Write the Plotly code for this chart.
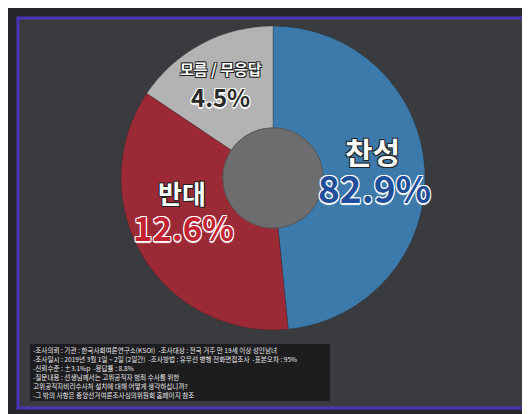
import plotly.graph_objects as go

# survey answers
labels = ['찬성', '반대', '모름 / 무응답']
label_pct = [82.9, 12.6, 4.5]
# share of the ring each slice actually occupies in the broadcast graphic
slice_share = [48.4, 36.0, 15.6]
colors = ['#3b7aab', '#9c2a36', '#b3b3b3']
pct_colors = ['#1f4f9a', '#c42230', '#2a2a2a']

footnote = [
    '-조사의뢰 : 기관 : 한국사회여론연구소(KSOI)  -조사대상 : 전국 거주 만 19세 이상 성인남녀',
    '-조사일시 : 2019년 3월 1일 ~ 2일 (2일간)  -조사방법 : 유무선 병행 전화면접조사  -표본오차 : 95%',
    '-신뢰수준 : ±3.1%p  -응답률 : 8.8%',
    '-질문내용 : 선생님께서는 고위공직자 범죄 수사를 위한',
    '고위공직자비리수사처 설치에 대해 어떻게 생각하십니까?',
    '-그 밖의 사항은 중앙선거여론조사심의위원회 홈페이지 참조',
]

W, H = 530, 414
cx, cy, R = 265, 170, 152   # ring centre / radius in px
hole = 0.33

FONT = 'Noto Sans CJK KR'
white_edge = '1px 1px 0 #fff, -1px -1px 0 #fff, 1px -1px 0 #fff, -1px 1px 0 #fff, 0 2px 1px #fff'
dark_edge = '1px 1px 0 #222, -1px -1px 0 #222, 1px -1px 0 #222, -1px 1px 0 #222'

fig = go.Figure()

fig.add_trace(go.Pie(
    labels=labels,
    values=slice_share,
    sort=False,
    direction='clockwise',
    rotation=0,
    hole=hole,
    marker=dict(colors=colors, line=dict(color='rgba(30,30,30,0.45)', width=0.6)),
    textinfo='none',
    hoverinfo='label',
    showlegend=False,
    domain=dict(x=[(cx - R) / W, (cx + R) / W], y=[1 - (cy + R) / H, 1 - (cy - R) / H]),
))

# frame and background
fig.add_shape(type='rect', xref='paper', yref='paper',
              x0=10 / W, x1=519 / W, y0=1 - 400 / H, y1=1 - 10 / H,
              line=dict(color='#4b34b8', width=3), fillcolor='#3a3b3f', layer='below')
# grey centre of the donut
hr = R * hole
fig.add_shape(type='circle', xref='paper', yref='paper',
              x0=(cx - hr) / W, x1=(cx + hr) / W, y0=1 - (cy + hr) / H, y1=1 - (cy - hr) / H,
              line=dict(color='#5a5a5a', width=1), fillcolor='#6d6d6f')

# slice labels (x, y, font size)
name_pos = [(364, 143, 30), (174, 184, 26), (213, 61, 15)]
pct_pos = [(366, 179, 37), (175, 219, 33), (212, 88, 24)]
for i, lab in enumerate(labels):
    x, y, s = name_pos[i]
    fig.add_annotation(x=x / W, y=1 - y / H, xref='paper', yref='paper', showarrow=False,
                       xanchor='center', yanchor='middle',
                       text=f'<b>{lab}</b>',
                       font=dict(family=FONT, size=s, color='#ffffff', shadow=dark_edge))
    x, y, s = pct_pos[i]
    fig.add_annotation(x=x / W, y=1 - y / H, xref='paper', yref='paper', showarrow=False,
                       xanchor='center', yanchor='middle',
                       text=f'<b>{label_pct[i]}%</b>',
                       font=dict(family=FONT, size=s, color=pct_colors[i], shadow=white_edge))

# footnote box
fig.add_shape(type='rect', xref='paper', yref='paper',
              x0=22 / W, x1=322 / W, y0=1 - 393 / H, y1=1 - 336 / H,
              line=dict(width=0), fillcolor='rgba(25,25,27,0.85)')
for i, line in enumerate(footnote):
    fig.add_annotation(x=23 / W, y=1 - (342 + i * 9) / H, xref='paper', yref='paper',
                       xanchor='left', yanchor='middle', showarrow=False,
                       text=line, font=dict(family=FONT, size=6.6, color='#e8e8e8'))

fig.update_layout(
    width=W, height=H,
    margin=dict(l=0, r=0, t=0, b=0),
    paper_bgcolor='#26272b',
    plot_bgcolor='#26272b',
)

fig.write_html('out.html')
